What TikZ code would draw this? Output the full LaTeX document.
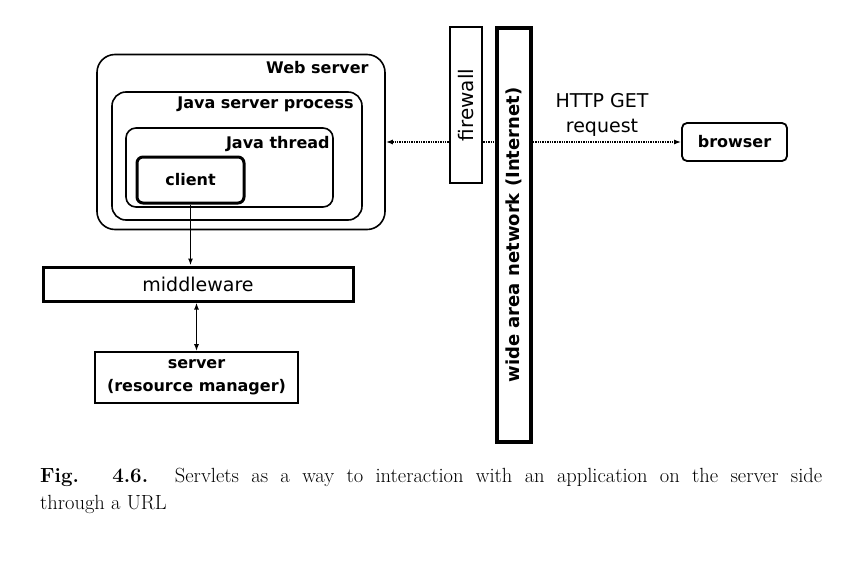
\documentclass[tikz,border=0pt]{standalone}
\usepackage{fontspec}
\usepackage{tikz}
\usetikzlibrary{positioning,arrows.meta}
\newfontfamily\diagfont{DejaVu Sans}

\tikzset{
    box/.style={draw, line width=1.6pt, inner sep=0pt},
    thickbox/.style={draw, line width=3pt, inner sep=0pt},
    boldlbl/.style={font=\diagfont\bfseries\fontsize{16}{23}\selectfont, inner sep=0pt, align=center},
    plainlbl/.style={font=\diagfont\fontsize{19}{25}\selectfont, inner sep=0pt, align=center},
    link/.style={line width=1.4pt, >={Latex[length=7pt,width=5pt]}},
    wanlink/.style={link, densely dotted}
}

\begin{document}
\begin{tikzpicture}[x=1pt, y=-1pt]
        \useasboundingbox (0,0) rectangle (848,560);
        \node[box, rounded corners=18pt, minimum width=288pt, minimum height=175pt] (web) at (241,142) {};
        \node[box, rounded corners=14pt, minimum width=250pt, minimum height=128pt] (jsp) at (237,156) {};
        \node[box, rounded corners=10pt, minimum width=207pt, minimum height=79pt] (jt) at (229.5,167.5) {};
        \node[boldlbl, anchor=east] (weblbl) at ([xshift=-17pt,yshift=-14pt]web.north east) {Web server};
        \node[boldlbl, anchor=east] (jsplbl) at ([xshift=-9pt,yshift=-13pt]jsp.north east) {Java server process};
        \node[boldlbl, anchor=east] (jtlbl) at ([xshift=-4pt,yshift=-17pt]jt.north east) {Java thread};
        \node[thickbox, rounded corners=6pt, minimum width=107pt, minimum height=46pt, boldlbl] (client) at (190.5,180) {client};
        \node[thickbox, minimum width=310pt, minimum height=34pt, plainlbl] (mw) at (198,284) {middleware};
        \node[box, minimum width=203pt, minimum height=51pt, boldlbl] (srv) at (196.5,377.5) {server\\(resource manager)};
        \node[draw, line width=2.6pt, minimum width=32pt, minimum height=156pt] (fw) at (466,105) {};
        \node[plainlbl, font=\diagfont\fontsize{20}{24}\selectfont, rotate=90] (fwlbl) at (fw) {firewall};
        \node[draw, line width=3.4pt, minimum width=34pt, minimum height=414pt] (wan) at (514,235) {};
        \node[boldlbl, font=\diagfont\bfseries\fontsize{18}{22}\selectfont, rotate=90] (wanlbl) at (wan) {wide area network (Internet)};
        \node[box, line width=1.8pt, rounded corners=5pt, minimum width=105pt, minimum height=38pt, boldlbl] (browser) at (734.5,142) {browser};
        \node[plainlbl] (http) at (602,115) {HTTP GET\\request};
        \draw[link, ->] (client) -- (client |- mw.north);
        \draw[link, <->] (srv.north) -- (srv.north |- mw.south);
        \draw[wanlink, <-] (web.east) -- (fw.west |- web.east);
        \draw[wanlink] (fw.east |- web.east) -- (wan.west |- web.east);
        \draw[wanlink, ->] (wan.east |- web.east) -- (browser.west);
        \node[anchor=north west, text width=782pt, align=justify, inner sep=0pt, font=\fontsize{20.5}{27}\selectfont] (caption) at (40,468) {\textbf{Fig. 4.6.} Servlets as a way to interaction with an application on the server side\linebreak through a URL};
    \end{tikzpicture}
\end{document}
